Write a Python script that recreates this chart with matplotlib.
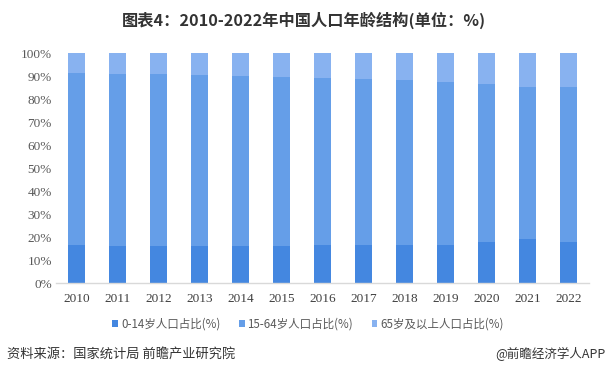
import matplotlib
matplotlib.use("Agg")
import matplotlib.pyplot as plt
import numpy as np

years = ["2010", "2011", "2012", "2013", "2014", "2015", "2016",
         "2017", "2018", "2019", "2020", "2021", "2022"]
age_0_14 = [16.6, 16.3, 16.3, 16.3, 16.3, 16.3, 16.6, 16.6, 16.6, 16.6, 18.0, 19.3, 18.0]
age_65_plus = [8.6, 9.0, 9.0, 9.4, 9.9, 10.3, 10.7, 11.2, 11.6, 12.5, 13.3, 14.7, 14.7]
age_15_64 = [100 - a - c for a, c in zip(age_0_14, age_65_plus)]
series_names = ["0-14岁人口占比(%)", "15-64岁人口占比(%)", "65岁及以上人口占比(%)"]
yticks = [0, 10, 20, 30, 40, 50, 60, 70, 80, 90, 100]

colors = ["#4487E0", "#659EE8", "#88B2F0"]
cjk = ["Noto Sans CJK SC", "DejaVu Sans"]

fig = plt.figure(figsize=(6.08, 3.75), dpi=100)
ax = fig.add_axes([56 / 608, 1 - 283.3 / 375, (589 - 56) / 608, (283.3 - 53) / 375])

x = np.arange(len(years))
w = 0.41
bottom = np.zeros(len(years))
handles = []
for vals, c, name in zip([age_0_14, age_15_64, age_65_plus], colors, series_names):
    b = ax.bar(x, vals, w, bottom=bottom, color=c, label=name, zorder=2)
    bottom += np.array(vals)
    handles.append(b)

ax.set_xlim(-0.5, len(years) - 0.5)
ax.set_ylim(0, 100)
ax.set_yticks(yticks)
ax.set_yticklabels([f"{t}%" for t in yticks], family="Liberation Serif", fontsize=9.5, color="#595959")
ax.set_xticks(x)
ax.set_xticklabels(years, family="Liberation Serif", fontsize=9.5, color="#404040")
ax.tick_params(axis="both", length=0)
ax.tick_params(axis="x", pad=7)
ax.tick_params(axis="y", pad=3)
for s in ["top", "right", "left"]:
    ax.spines[s].set_visible(False)
ax.spines["bottom"].set_color("#d9d9d9")
ax.spines["bottom"].set_linewidth(1)

fig.text(0.5, 1 - 20 / 375, "图表4：2010-2022年中国人口年龄结构(单位：%)", ha="center", va="center",
         family=cjk, fontsize=11.7, fontweight="bold", color="#333333")

leg = fig.legend(handles=handles, labels=series_names, loc="center", bbox_to_anchor=(308 / 608, 1 - 324 / 375),
                 ncol=3, frameon=False, prop={"family": cjk, "size": 8.3},
                 handlelength=0.5, handleheight=0.5, handletextpad=0.25, columnspacing=1.6)
for t in leg.get_texts():
    t.set_color("#595959")

fig.text(7 / 608, 1 - 354 / 375, "资料来源：国家统计局 前瞻产业研究院", ha="left", va="center",
         family=cjk, fontsize=9.5, color="#333333")
fig.text(606 / 608, 1 - 354 / 375, "@前瞻经济学人APP", ha="right", va="center",
         family=cjk, fontsize=9, color="#333333")

fig.savefig("out.png", dpi=100, facecolor="white")
